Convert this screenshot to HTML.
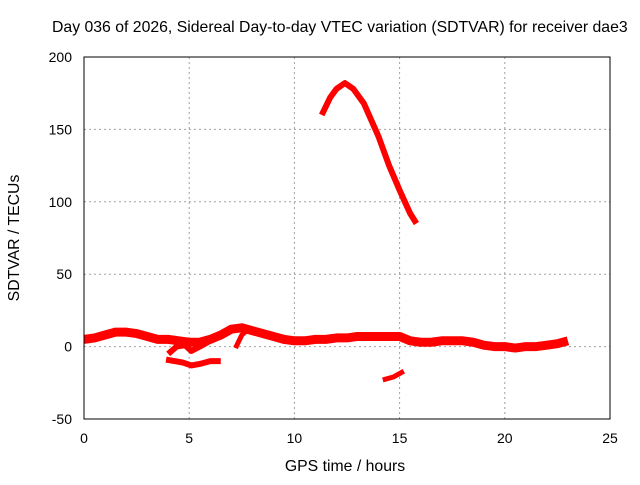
<!DOCTYPE html>
<html><head><meta charset="utf-8"><style>
body{margin:0;background:#fff;}
svg text{font-family:"Liberation Sans",sans-serif;font-size:14px;fill:#000;}
svg text.big{font-size:15.8px;}
</style></head><body>
<svg id="chart" width="640" height="480" xmlns="http://www.w3.org/2000/svg">
<text class="big" x="52" y="32">Day 036 of 2026, Sidereal Day-to-day VTEC variation (SDTVAR) for receiver dae3</text>
<text class="big" x="345" y="471" text-anchor="middle">GPS time / hours</text>
<text class="big" transform="translate(19,238) rotate(-90)" text-anchor="middle">SDTVAR / TECUs</text>
<g id="grid"></g><g id="ticks"></g><g id="marks"></g>
<rect x="84" y="57" width="526" height="362" fill="none" stroke="#000" stroke-width="1"/>
</svg>
<script>
const xTicks=[0,5,10,15,20,25];
const yTicks=[-50,0,50,100,150,200];
const mainX=[0,0.5,1,1.5,2,2.5,3,3.5,4,4.5,5,5.5,6,6.5,7,7.5,8,8.5,9,9.5,10,10.5,11,11.5,12,12.5,13,13.5,14,14.5,15,15.5,16,16.5,17,17.5,18,18.5,19,19.5,20,20.5,21,21.5,22,22.5,23];
const mainY=[5,6,8,10,10,9,7,5,5,4,3,3,5,8,12,13,11,9,7,5,4,4,5,5,6,6,7,7,7,7,7,4,3,3,4,4,4,3,1,0,0,-1,0,0,1,2,4];
const loopX=[3.9,4.3,4.7,5.1,5.5,6,6.5];
const loopY=[-9,-10,-11,-13,-12,-10,-10];
const branchX=[4,4.4,4.8,5.1,5.5,6,6.5];
const branchY=[-5,0,1,-3,0,4,7];
const stubX=[7.2,7.5,7.8];
const stubY=[-1,8,12];
const peakX=[11.3,11.7,12,12.4,12.8,13.3,14,14.5,15,15.5,15.8];
const peakY=[160,172,178,182,178,168,145,125,108,92,85];
const lowX=[14.2,14.7,15.2];
const lowY=[-23,-21,-17];
const NS="http://www.w3.org/2000/svg";
const sx=v=>84+v*(526/25);
const sy=v=>346.6-v*(362/250);
const grid=document.getElementById('grid'),ticks=document.getElementById('ticks'),marks=document.getElementById('marks');
function mk(t,a,p){const e=document.createElementNS(NS,t);for(const k in a)e.setAttribute(k,a[k]);p.appendChild(e);return e;}
xTicks.forEach(v=>{
 if(v>0&&v<25){const g=mk('line',{x1:sx(v),x2:sx(v),y1:57,y2:419,stroke:'#a0a0a0','stroke-dasharray':'2,3'},grid);
 
 }
 const t=mk('text',{x:sx(v),y:443,'text-anchor':'middle'},ticks);t.textContent=v;
 
 
});
yTicks.forEach(v=>{
 if(v>-50&&v<200){const g=mk('line',{x1:84,x2:610,y1:sy(v),y2:sy(v),stroke:'#a0a0a0','stroke-dasharray':'2,3'},grid);
 
 }
 const t=mk('text',{x:72,y:sy(v)+5,'text-anchor':'end'},ticks);t.textContent=v;
 
 
});
function series(xs,ys,w,name){
 const p=mk('polyline',{points:xs.map((x,i)=>sx(x)+','+sy(ys[i])).join(' '),fill:'none',stroke:'#ff0000','stroke-width':w,'stroke-linejoin':'round','stroke-linecap':'butt'},marks);
 
 
}
series(mainX,mainY,9,'main-series-line');
series(loopX,loopY,6,'loop-series-line');
series(branchX,branchY,6,'branch-series-line');
series(stubX,stubY,5,'stub-series-line');
series(peakX,peakY,6,'peak-series-line');
series(lowX,lowY,5,'low-series-line');
</script>
</body></html>
